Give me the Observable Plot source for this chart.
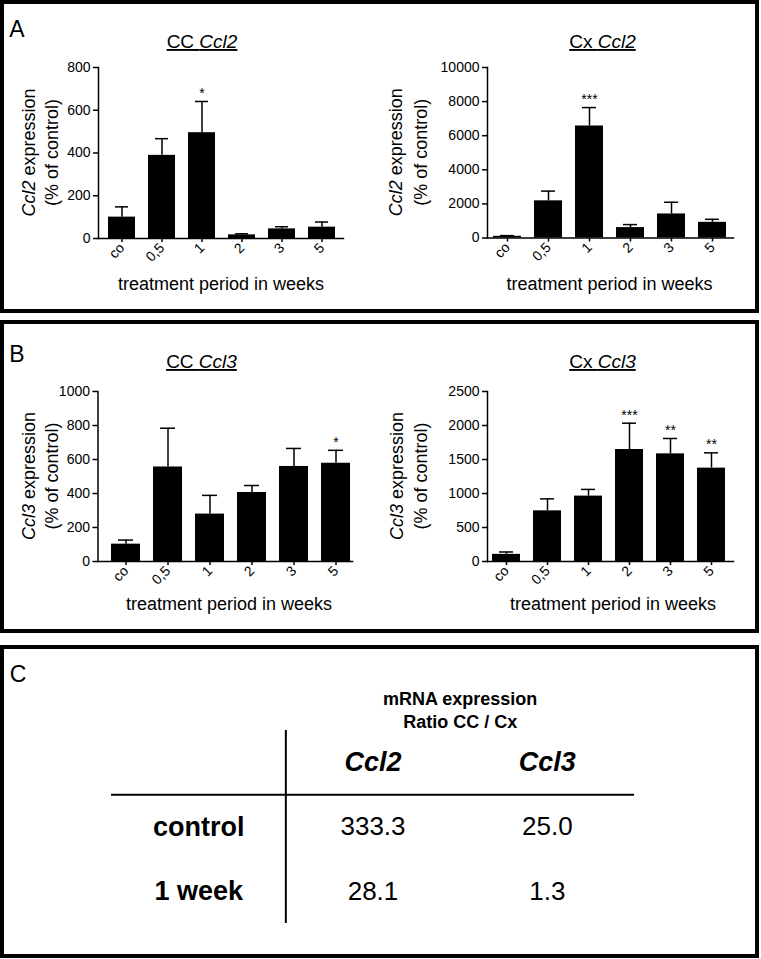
<!DOCTYPE html>
<html><head><meta charset="utf-8">
<script src="https://cdn.jsdelivr.net/npm/d3@7"></script>
<script src="https://cdn.jsdelivr.net/npm/@observablehq/plot@0.6"></script>
<style>
body{margin:0;background:#fff;}
#fig{position:relative;width:761px;height:959px;font-family:"Liberation Sans",Arial,Helvetica,sans-serif;color:#000;overflow:hidden;}
.panel{position:absolute;left:0;width:759px;height:313px;border:4px solid #000;box-sizing:border-box;}
#fig svg{position:absolute;}
</style></head><body><div id="fig"></div>
<script>
// ---- data ----
const weeks = ["co", "0,5", "1", "2", "3", "5"];

const ccCcl2 = [100, 389, 495, 17, 45, 53];
const ccCcl2Err = [48, 78, 146, 5, 10, 24];
const ccCcl2Stars = ["", "", "*", "", "", ""];
const ccCcl2Ticks = [0, 200, 400, 600, 800];

const cxCcl2 = [100, 2180, 6570, 610, 1410, 920];
const cxCcl2Err = [40, 570, 1080, 176, 686, 176];
const cxCcl2Stars = ["", "", "***", "", "", ""];
const cxCcl2Ticks = [0, 2000, 4000, 6000, 8000, 10000];

const ccCcl3 = [102, 556, 279, 406, 559, 578];
const ccCcl3Err = [24, 228, 110, 41, 106, 76];
const ccCcl3Stars = ["", "", "", "", "", "*"];
const ccCcl3Ticks = [0, 200, 400, 600, 800, 1000];

const cxCcl3 = [105, 745, 962, 1647, 1583, 1373];
const cxCcl3Err = [35, 176, 98, 387, 226, 225];
const cxCcl3Stars = ["", "", "", "***", "**", "**"];
const cxCcl3Ticks = [0, 500, 1000, 1500, 2000, 2500];

const tableHeader = ["mRNA expression", "Ratio CC / Cx"];
const tableCols = ["Ccl2", "Ccl3"];
const tableRows = ["control", "1 week"];
const ratioCcl2 = ["333.3", "28.1"];
const ratioCcl3 = ["25.0", "1.3"];

const FONT = '"Liberation Sans", Arial, Helvetica, sans-serif';
const fig = document.getElementById("fig");

// panel borders
[0, 320, 645].forEach(t => {
  const d = document.createElement("div");
  d.className = "panel"; d.style.top = t + "px";
  fig.appendChild(d);
});

function barChart(o) {
  const data = weeks.map((w, i) => ({w, v: o.values[i], e: o.errors[i], s: o.stars[i]}));
  const plot = Plot.plot({
    width: o.width, height: 313,
    marginLeft: o.ml, marginRight: o.mr, marginTop: o.mt, marginBottom: o.mb,
    style: {fontFamily: FONT, fontSize: "14px", color: "#000", background: "transparent", overflow: "visible"},
    x: {domain: weeks, paddingInner: 0.32, paddingOuter: o.po, align: o.align},
    y: {domain: [0, o.yMax]},
    marks: [
      Plot.ruleX(data, {x: "w", y1: "v", y2: d => d.v + d.e, strokeWidth: 1.5}),
      Plot.tickY(data, {x: "w", y: d => d.v + d.e, strokeWidth: 1.5, insetLeft: 7, insetRight: 7}),
      Plot.barY(data, {x: "w", y: "v", fill: "#000"}),
      Plot.text(data.filter(d => d.s), {x: "w", y: d => d.v + d.e, text: "s", dy: -8, fontSize: 14}),
      Plot.axisY({ticks: o.yTicks, tickSize: 5, tickPadding: 3, tickFormat: d => String(d), label: null, strokeWidth: 1.5}),
      Plot.axisX({tickRotate: -45, tickSize: 4, tickPadding: 3, label: null, strokeWidth: 1.5}),
      Plot.frame({anchor: "left", strokeWidth: 1.5}),
      Plot.frame({anchor: "bottom", strokeWidth: 1.5})
    ]
  });
  plot.style.left = o.left + "px";
  plot.style.top = o.top + "px";
  const svg = d3.select(plot);
  const g = svg.append("g").attr("fill", "#000").style("font-family", FONT);
  // title
  const t = g.append("text").attr("x", o.titleX).attr("y", 48).attr("text-anchor", "middle")
    .style("font-size", "19px").style("text-decoration", "underline");
  t.append("tspan").text(o.region + " ");
  t.append("tspan").style("font-style", "italic").text(o.gene);
  // y label
  const cy = (o.mt + 313 - o.mb) / 2;
  const l1 = g.append("text").attr("transform", `translate(${o.yl1},${cy}) rotate(-90)`).attr("text-anchor", "middle").style("font-size", "18px");
  l1.append("tspan").style("font-style", "italic").text(o.gene);
  l1.append("tspan").text(" expression");
  g.append("text").attr("transform", `translate(${o.yl2},${cy}) rotate(-90)`).attr("text-anchor", "middle").style("font-size", "18px").text("(% of control)");
  // x label
  g.append("text").attr("x", o.xlX).attr("y", 290).attr("text-anchor", "middle").style("font-size", "18px").text("treatment period in weeks");
  if (o.panel) {
    g.append("text").attr("x", 17).attr("y", o.panelY).style("font-size", "23px").text(o.panel);
  }
  fig.appendChild(plot);
}

barChart({values: ccCcl2, errors: ccCcl2Err, stars: ccCcl2Stars, yTicks: ccCcl2Ticks, yMax: 800,
  left: 0, top: 0, width: 380, ml: 98, mr: 37, mt: 67, mb: 75, po: 0.2, align: 0.57,
  region: "CC", gene: "Ccl2", titleX: 202, yl1: 35, yl2: 58, xlX: 221, panel: "A", panelY: 37});
barChart({values: cxCcl2, errors: cxCcl2Err, stars: cxCcl2Stars, yTicks: cxCcl2Ticks, yMax: 10000,
  left: 380, top: 0, width: 381, ml: 107, mr: 28, mt: 67, mb: 75.5, po: 0.155, align: 0.47,
  region: "Cx", gene: "Ccl2", titleX: 222.5, yl1: 22, yl2: 47, xlX: 229.5});
barChart({values: ccCcl3, errors: ccCcl3Err, stars: ccCcl3Stars, yTicks: ccCcl3Ticks, yMax: 1000,
  left: 0, top: 320, width: 380, ml: 97.5, mr: 28, mt: 71, mb: 72, po: 0.14, align: 0.83,
  region: "CC", gene: "Ccl3", titleX: 201.5, yl1: 35, yl2: 58, xlX: 229, panel: "B", panelY: 42});
barChart({values: cxCcl3, errors: cxCcl3Err, stars: cxCcl3Stars, yTicks: cxCcl3Ticks, yMax: 2500,
  left: 380, top: 320, width: 381, ml: 107, mr: 28, mt: 71, mb: 72, po: 0.15, align: 0.4,
  region: "Cx", gene: "Ccl3", titleX: 222.5, yl1: 23, yl2: 47, xlX: 233});

// ---- table (panel C) ----
const cells = tableRows.flatMap((r, i) => [
  {col: 1, row: i + 1, t: ratioCcl2[i]},
  {col: 2, row: i + 1, t: ratioCcl3[i]}
]);
const table = Plot.plot({
  width: 761, height: 313, axis: null,
  style: {fontFamily: FONT, color: "#000", background: "transparent", overflow: "visible"},
  x: {domain: [0, 3], range: [111, 634]},
  y: {domain: [0, 3], range: [85, 278]},
  marks: [
    Plot.ruleX([1], {y1: 0, y2: 3, strokeWidth: 2}),
    Plot.ruleY([1], {x1: 0, x2: 3, strokeWidth: 2}),
    Plot.text([tableHeader.join("\n")], {x: 2, y: -1/3, text: d => d, fontSize: 18, fontWeight: "bold", lineHeight: 1.28}),
    Plot.text(tableCols, {x: (d, i) => i + 1.5, y: 0.5, text: d => d, fontSize: 27, fontWeight: "bold", fontStyle: "italic"}),
    Plot.text(tableRows, {x: 0.5, y: (d, i) => i + 1.5, text: d => d, fontSize: 27, fontWeight: "bold"}),
    Plot.text(cells, {x: d => d.col + 0.5, y: d => d.row + 0.5, text: "t", fontSize: 26})
  ]
});
table.style.left = "0px"; table.style.top = "645px";
d3.select(table).append("text").attr("x", 18).attr("y", 37).style("font-size", "23px").style("font-family", FONT).attr("fill", "#000").text("C");
fig.appendChild(table);
</script></body></html>
